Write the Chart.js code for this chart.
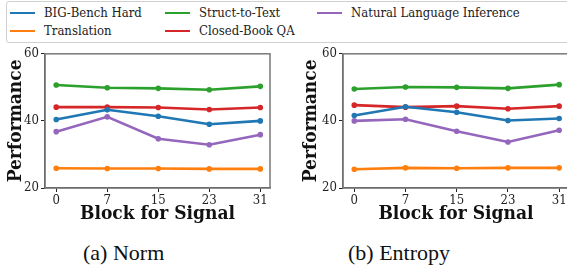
<!DOCTYPE html>
<html>
<head>
<meta charset="utf-8">
<script src="https://cdn.jsdelivr.net/npm/chart.js@4.4.1/dist/chart.umd.min.js"></script>
<style>
    body { margin: 0; width: 567px; height: 271px; overflow: hidden; background: #fff; position: relative; }
    .legend { position: absolute; left: 6px; top: 1px; width: 580px; height: 40px; border: 1px solid #d0d0d0; border-radius: 3px; }
    .legend .item { position: absolute; font-family: "DejaVu Serif Condensed", "DejaVu Serif"; font-size: 13px; color: #222; line-height: 14px; white-space: nowrap; }
    .legend .swatch { position: absolute; left: 0; top: 6px; width: 25px; height: 2px; }
    .legend .label { position: absolute; left: 34px; top: 0; }
    .caption { position: absolute; top: 240px; font-family: "Liberation Serif"; font-size: 22px; color: #111; }
    canvas { position: absolute; }
</style>
</head>
<body>
<div class="legend" id="legend"></div>
<canvas id="normChart" width="283" height="182" style="left:0;top:44px"></canvas>
<canvas id="entropyChart" width="290" height="182" style="left:283px;top:44px"></canvas>
<div class="caption" style="left:83px">(a) Norm</div>
<div class="caption" style="left:348px">(b) Entropy</div>
<script>
// Data
const blocks = ['0', '7', '15', '23', '31'];
const seriesNames = ['BIG-Bench Hard', 'Translation', 'Struct-to-Text', 'Closed-Book QA', 'Natural Language Inference'];
const seriesColors = ['#1f77b4', '#ff7f0e', '#2ca02c', '#d62728', '#9467bd'];

const normBBH = [40.4, 43.3, 41.4, 39.0, 40.0];
const normTranslation = [25.9, 25.8, 25.8, 25.7, 25.7];
const normStruct = [50.7, 49.9, 49.7, 49.3, 50.3];
const normCBQA = [44.1, 44.1, 44.0, 43.4, 44.0];
const normNLI = [36.8, 41.2, 34.7, 32.9, 35.9];

const entropyBBH = [41.6, 44.2, 42.6, 40.1, 40.7];
const entropyTranslation = [25.6, 26.0, 25.9, 26.0, 26.0];
const entropyStruct = [49.5, 50.1, 50.0, 49.7, 50.8];
const entropyCBQA = [44.7, 44.1, 44.4, 43.6, 44.4];
const entropyNLI = [40.0, 40.5, 36.9, 33.7, 37.2];

const yTicks = [20, 40, 60];

const serif = "'DejaVu Serif Condensed', 'DejaVu Serif'";

// Legend (3 columns, filled column by column)
const legendEl = document.getElementById('legend');
const colX = [3, 158, 310];
const rowY = [4, 22];
seriesNames.forEach(function(name, i) {
    const item = document.createElement('div');
    item.className = 'item';
    item.style.left = colX[Math.floor(i / 2)] + 'px';
    item.style.top = rowY[i % 2] + 'px';
    item.innerHTML = '<span class="swatch" style="background:' + seriesColors[i] + '"></span><span class="label">' + name + '</span>';
    legendEl.appendChild(item);
});

// gray frame around the plot area (top / right spines)
const framePlugin = {
    id: 'frame',
    beforeDatasetsDraw(chart) {
        const a = chart.chartArea;
        const ctx = chart.ctx;
        ctx.save();
        ctx.strokeStyle = '#808080';
        ctx.lineWidth = 1.6;
        ctx.strokeRect(a.left, a.top, a.right - a.left, a.bottom - a.top);
        ctx.restore();
    }
};

function makeChart(id, values, padLeft, yWidth, padRight) {
    const datasets = values.map(function(v, i) {
        return {
            label: seriesNames[i],
            data: v.map((y, k) => ({ x: k, y: y })),
            borderColor: seriesColors[i],
            backgroundColor: seriesColors[i],
            borderWidth: 2.6,
            pointRadius: 1.5,
            pointHoverRadius: 1.5,
            tension: 0
        };
    });
    new Chart(document.getElementById(id), {
        type: 'line',
        data: { datasets: datasets },
        plugins: [framePlugin],
        options: {
            responsive: false,
            animation: false,
            layout: { padding: { top: 9, right: padRight, left: padLeft, bottom: 0 } },
            plugins: { legend: { display: false }, tooltip: { enabled: false } },
            scales: {
                x: {
                    type: 'linear',
                    min: -0.22,
                    max: 4.19,
                    afterBuildTicks: function(s) { s.ticks = blocks.map((b, k) => ({ value: k })); },
                    afterFit: function(s) { s.height = 38; },
                    ticks: {
                        callback: function(v) { return blocks[v]; },
                        font: { family: serif, size: 13 },
                        color: '#222',
                        padding: 1,
                        maxRotation: 0
                    },
                    grid: { display: true, drawOnChartArea: false, drawTicks: true, tickLength: 4, color: '#222' },
                    border: { display: true, color: '#222', width: 1.3 },
                    title: {
                        display: true,
                        text: 'Block for Signal',
                        font: { family: serif, size: 19, weight: 'bold' },
                        color: '#111',
                        padding: { top: 0, bottom: 1 }
                    }
                },
                y: {
                    min: 20,
                    max: 60,
                    afterBuildTicks: function(s) { s.ticks = yTicks.map(v => ({ value: v })); },
                    afterFit: function(s) { s.width = yWidth; },
                    ticks: {
                        font: { family: serif, size: 13 },
                        color: '#222',
                        padding: 2
                    },
                    grid: { display: true, drawOnChartArea: false, drawTicks: true, tickLength: 4, color: '#222' },
                    border: { display: true, color: '#222', width: 1.3 },
                    title: {
                        display: true,
                        text: 'Performance',
                        font: { family: serif, size: 19, weight: 'bold' },
                        color: '#111',
                        padding: { top: 3, bottom: 1 }
                    }
                }
            }
        }
    });
}

makeChart('normChart', [normBBH, normTranslation, normStruct, normCBQA, normNLI], 2, 43, 13);
makeChart('entropyChart', [entropyBBH, entropyTranslation, entropyStruct, entropyCBQA, entropyNLI], 14, 46, 4);
</script>
</body>
</html>
